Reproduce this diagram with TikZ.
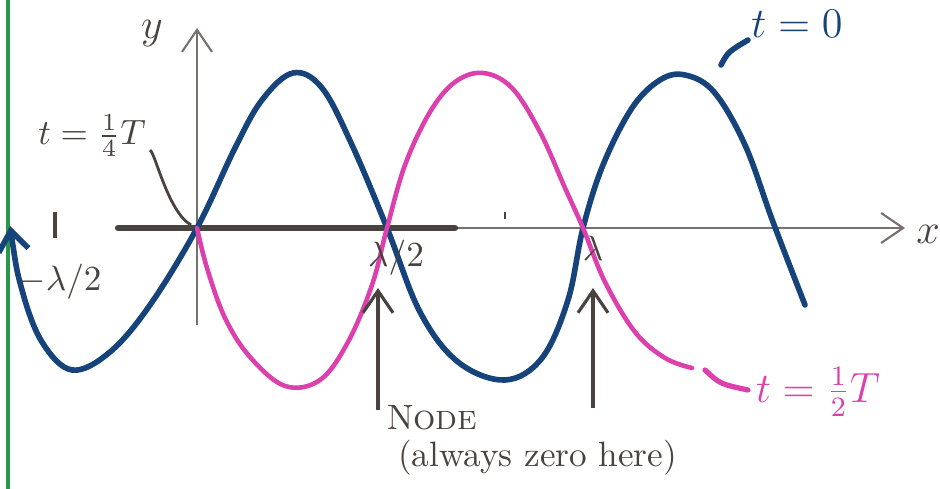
\documentclass[tikz,border=0pt]{standalone}
\usepackage{tikz}
\usetikzlibrary{arrows.meta, positioning}
\definecolor{wavezero}{RGB}{22,68,122}
\definecolor{wavehalf}{RGB}{220,64,172}
\definecolor{pencil}{RGB}{74,66,62}
\definecolor{margin}{RGB}{40,152,72}

\begin{document}
\begin{tikzpicture}[
   x=0.01cm, y=-0.01cm,
   lbl/.style={font=\normalsize, text=pencil, inner sep=1pt},
   axis/.style={draw=pencil!75, line width=0.6pt},
   flat/.style={draw=pencil, line width=1.8pt, line cap=round},
   wave/.style={line width=1.6pt, line cap=round},
   arr/.style={-{Straight Barb[length=2.2mm, width=3mm]}, draw=pencil, line width=0.9pt}]

  \useasboundingbox (0,0) rectangle (940,489);
  \draw[margin, line width=1pt] (8,0) -- (8,489);

  % axes
  \coordinate (O) at (197,228);
  \coordinate (ybot) at (197,325);
  \coordinate (ytop) at (197,28);
  \coordinate (xleft) at (118,228);
  \coordinate (xright) at (905,228);
  \coordinate (flatend) at (455,228);
  \draw[axis, arr, draw=pencil!75, line width=0.6pt] (ybot) -- (ytop);
  \draw[axis, arr, draw=pencil!75, line width=0.6pt] (xleft) -- (xright);
  \node[lbl, font=\large] (ylab) at (152,34) {$y$};
  \node[lbl, font=\large] (xlab) at (928,234) {$x$};

  % t = T/4 : flat everywhere
  \draw[flat] (xleft) -- (flatend);

  % ticks
  \draw[pencil, line width=0.9pt] (55,212) -- (55,238);
  \draw[pencil, line width=0.8pt] (505,212) -- (505,219);

  % t = 0
  \draw[wave, wavezero, {Straight Barb[length=2mm, width=3mm]}-] plot[smooth, tension=0.6] coordinates {
    (10,226) (22,290) (42,342) (72,370) (110,352) (150,305) (197,228)
    (235,148) (262,100) (293,73) (322,88) (352,145) (387,228)
    (420,312) (458,362) (505,380) (542,358) (568,300) (583,228)
    (603,165) (632,108) (660,80) (685,75) (714,92) (745,145) (773,222) (805,305)};

  % t = T/2
  \draw[wave, wavehalf, line width=1.3pt] plot[smooth, tension=0.6] coordinates {
    (197,228) (207,268) (225,318) (250,357) (285,386) (320,380) (348,342)
    (372,285) (387,228) (405,165) (430,112) (455,82) (483,73)
    (512,88) (540,132) (565,188) (583,228) (605,282) (635,332) (665,358) (692,368)};

  % labels
  \node[lbl] (quarter) at (92,136) {$t=\frac{1}{4}T$};
  \coordinate (qtip) at (191,225);
  \draw[pencil, line width=0.8pt] ([yshift=-4pt]quarter.east) .. controls (155,152) and (168,212) .. (qtip);

  \node[lbl] (mhalf) at (60,282) {$-\lambda/2$};
  \node[lbl] (half) at (396,258) {$\lambda/2$};
  \node[lbl] (lam) at (593,248) {$\lambda$};

  \node[lbl, text=wavezero, font=\large] (tzero) at (797,24) {$t=0$};
  \coordinate (tz1) at (721,65);
  \coordinate (tz2) at (748,40);
  \draw[wavezero, line width=1.6pt, line cap=round] (tz1) .. controls (728,52) .. (tz2);

  \node[lbl, text=wavehalf, font=\large] (thalf) at (818,392) {$t=\frac{1}{2}T$};
  \coordinate (th1) at (705,370);
  \coordinate (th2) at (748,390);
  \draw[wavehalf, line width=1.5pt, line cap=round] (th1) .. controls (720,384) .. (th2);

  % nodes of the standing wave
  \node[lbl, anchor=west] (node) at (383,418) {N\textsc{ode}};
  \node[lbl, anchor=west] (zero) at (394,458) {(always zero here)};
  \coordinate (n1foot) at (378,410);
  \coordinate (n1head) at (378,288);
  \coordinate (n2foot) at (593,408);
  \coordinate (n2head) at (593,288);
  \draw[arr] (n1foot) -- (n1head);
  \draw[arr] (n2foot) -- (n2head);
\end{tikzpicture}
\end{document}
